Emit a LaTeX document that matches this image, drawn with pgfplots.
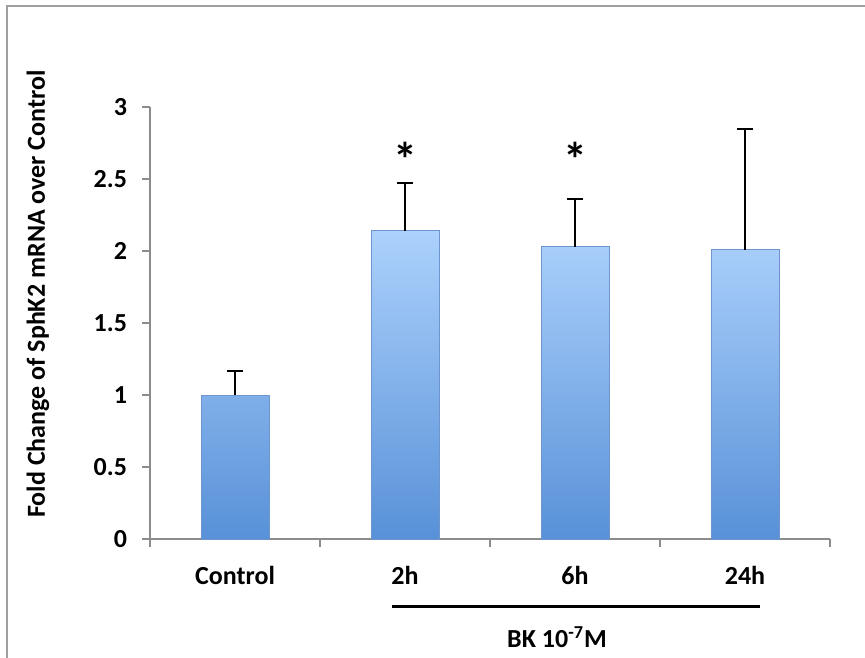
\documentclass[border=0pt]{standalone}
\usepackage{fontspec}
\setmainfont{Carlito}
\usepackage{pgfplots}
\pgfplotsset{compat=1.18}
\definecolor{axgray}{RGB}{140,140,140}
\definecolor{framegray}{RGB}{160,160,160}
\definecolor{bartop}{RGB}{172,209,252}
\definecolor{barmid}{RGB}{158,198,247}
\definecolor{barbot}{RGB}{88,145,216}
\definecolor{baredge}{RGB}{110,150,205}
\begin{document}
\begin{tikzpicture}
\useasboundingbox (-75pt,-59pt) rectangle (357.5pt,269.5pt);
\draw[framegray, line width=0.8pt] (-71.5pt,-60pt) -- (-71.5pt,266.5pt) -- (360pt,266.5pt);
\begin{axis}[
  at={(0,0)}, anchor=south west,
  scale only axis, width=340pt, height=216pt,
  xmin=-0.5, xmax=3.5, ymin=0, ymax=3,
  axis x line*=bottom, axis y line*=left,
  axis line style={axgray, line width=0.75pt},
  every tick/.style={axgray, line width=0.75pt},
  tick align=outside,
  xtick={0,1,2,3},
  xticklabels={Control,2h,6h,24h},
  major x tick style={draw=none},
  minor xtick={-0.5,0.5,1.5,2.5,3.5},
  minor tick length=4pt,
  major tick length=4pt,
  ytick={0,0.5,1,1.5,2,2.5,3},
  yticklabels={0,0.5,1,1.5,2,2.5,3},
  tick label style={font=\fontsize{13}{15}\selectfont\bfseries},
  xticklabel style={yshift=-6pt},
  yticklabel style={xshift=-4pt},
  clip=false,
]
\addplot[ybar, bar width=34pt, draw=baredge, line width=0.4pt,
  shading=axis, top color=bartop, middle color=barmid, bottom color=barbot,
  error bars/.cd, y dir=plus, y explicit,
  error bar style={black, line width=1pt},
  error mark options={black, rotate=90, mark size=4pt, line width=1pt}]
  coordinates {
    (0,1.00) +- (0,0.17)
    (1,2.14) +- (0,0.33)
    (2,2.03) +- (0,0.33)
    (3,2.01) +- (0,0.84)
  };
\node[font=\fontsize{24}{24}\selectfont\bfseries] at (axis cs:1,2.64) {*};
\node[font=\fontsize{24}{24}\selectfont\bfseries] at (axis cs:2,2.64) {*};
\end{axis}
\draw[black, line width=1.5pt] (121pt,-33.5pt) -- (305pt,-33.5pt);
\node[font=\fontsize{13}{15}\selectfont\bfseries] at (203.5pt,-49pt) {BK 10\textsuperscript{-7}M};
\node[rotate=90, font=\fontsize{13}{15}\selectfont\bfseries] at (-56pt,122.5pt) {Fold Change of SphK2 mRNA over Control};
\end{tikzpicture}
\end{document}
